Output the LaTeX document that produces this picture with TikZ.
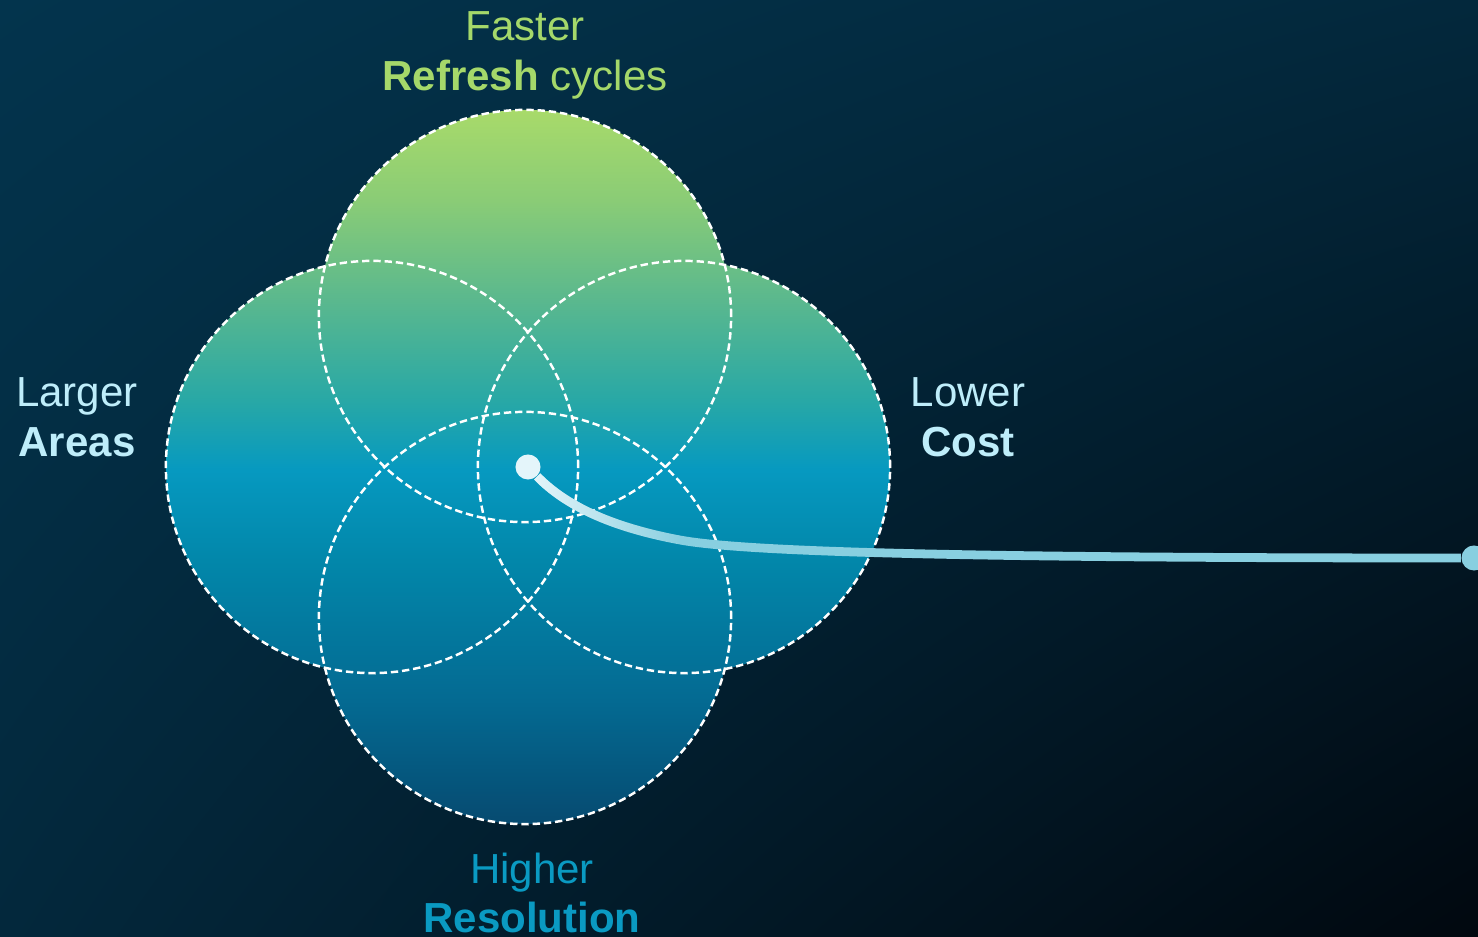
\documentclass[tikz,border=0pt]{standalone}
\usepackage{fontspec}
\setmainfont{Liberation Sans}
\usetikzlibrary{fadings,shadings}

\definecolor{bgTL}{RGB}{3,52,77}
\definecolor{bgTR}{RGB}{3,40,60}
\definecolor{bgBL}{RGB}{3,40,60}
\definecolor{bgBR}{RGB}{1,8,15}
\definecolor{vA}{RGB}{6,74,112}
\definecolor{vB}{RGB}{4,106,146}
\definecolor{vC}{RGB}{2,135,170}
\definecolor{vD}{RGB}{6,153,192}
\definecolor{vE}{RGB}{40,168,166}
\definecolor{vF}{RGB}{90,184,142}
\definecolor{vG}{RGB}{138,204,118}
\definecolor{vH}{RGB}{168,218,106}
\definecolor{leafgreen}{RGB}{165,216,106}
\definecolor{icecyan}{RGB}{190,237,250}
\definecolor{seablue}{RGB}{10,154,194}
\definecolor{wireblue}{RGB}{136,207,224}
\definecolor{hubwhite}{RGB}{228,245,250}

\pgfdeclareverticalshading{vennfill}{100bp}{color(0bp)=(vA); color(25bp)=(vA);
  color(33.7bp)=(vB); color(43.5bp)=(vC); color(49.8bp)=(vD); color(54.7bp)=(vE);
  color(61.7bp)=(vF); color(68.7bp)=(vG); color(75bp)=(vH); color(100bp)=(vH)}
\tikzfading[name=faderight, left color=transparent!0, right color=transparent!100]

\begin{document}
\begin{tikzpicture}[
    % one unit is one pixel of the reference
    x=0.01cm, y=-0.01cm,
    % dashed outline of a circle
    ring/.style = {circle, draw=white, dash pattern=on 2.1pt off 1.1pt, line width=0.7pt,
                   minimum size=4.12cm, inner sep=0pt},
    dot/.style = {circle, fill=#1, minimum size=0.25cm, inner sep=0pt},
    wire/.style = {draw=wireblue, line width=2.5pt},
    label/.style = {align=center, font=\fontsize{11.95}{14.2}\selectfont}
    ]

    % background
    \shade[upper left=bgTL, upper right=bgTR, lower left=bgBL, lower right=bgBR]
        (0,0) rectangle (1478,937);
    \useasboundingbox (0,0) rectangle (1478,937);

    \coordinate (T) at (525,316);
    \coordinate (L) at (372,467);
    \coordinate (R) at (684,467);
    \coordinate (B) at (525,618);

    % filled union of the circles
    \begin{scope}
        \clip (T) circle (2.06cm) (L) circle (2.06cm) (R) circle (2.06cm) (B) circle (2.06cm);
        \shade[shading=vennfill] (160,110) rectangle (895,825);
    \end{scope}

    % circles
    \node (Tring) [ring] at (T) {};
    \node (Lring) [ring] at (L) {};
    \node (Rring) [ring] at (R) {};
    \node (Bring) [ring] at (B) {};

    % labels
    \node (Tlabel) [label, text=leafgreen] at (525,55) {Faster\\\textbf{Refresh} cycles};
    \node (Llabel) [label, text=icecyan] at (77,417) {Larger\\\textbf{Areas}};
    \node (Rlabel) [label, text=icecyan] at (968,417) {Lower\\\textbf{Cost}};
    \node (Blabel) [label, text=seablue] at (532,893) {Higher\\\textbf{Resolution}};

    % dots
    \node (hub) [dot=hubwhite] at (528,467) {};
    \node (tip) [dot=wireblue] at (1474,558) {};
    \coordinate (bend) at (680,540);

    % wire
    \draw[wire] (hub) .. controls (565,505) and (610,527) .. (bend)
                      .. controls (750,553) and (1000,558) .. (tip);
    \draw[wire, draw=hubwhite, path fading=faderight] (hub) .. controls (565,505) and (610,527) .. (bend);
\end{tikzpicture}
\end{document}
